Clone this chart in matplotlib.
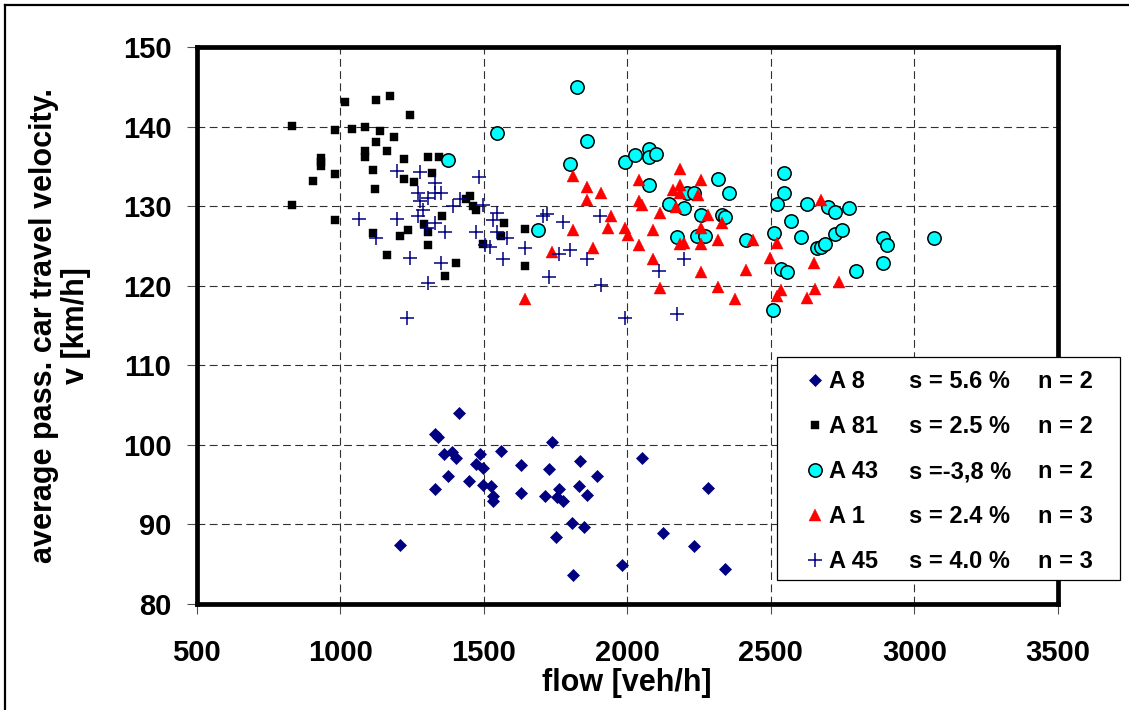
import matplotlib
matplotlib.use("Agg")
import matplotlib.pyplot as plt
from matplotlib.lines import Line2D
from matplotlib.patches import Rectangle

plt.rcParams['font.family'] = ['Liberation Sans', 'DejaVu Sans']

# ---------------- data ----------------
a8_x = [1414, 1330, 1342, 1363, 1388, 1403, 1487, 1559, 1738, 1473, 1499, 1631, 1728, 1834,
        2052, 1377, 1450, 1894, 1330, 1499, 1524, 1833, 2280, 1533, 1533, 1631, 1714, 1763,
        1755, 1776, 1859, 1809, 1848, 2123, 1751, 1208, 2231, 1980, 2341, 1810]
a8_y = [104.0, 101.4, 101.0, 98.9, 99.1, 98.3, 98.8, 99.2, 100.3, 97.6, 97.1, 97.5, 97.0, 98.0,
        98.4, 96.1, 95.4, 96.1, 94.4, 95.0, 94.8, 94.8, 94.6, 93.6, 93.0, 93.9, 93.6, 94.4,
        93.5, 93.0, 93.7, 90.2, 89.7, 88.9, 88.4, 87.4, 87.3, 84.9, 84.4, 83.6]

a81_x = [1016, 1124, 1173, 1245, 834, 981, 1040, 1088, 1138, 1187, 1124, 1088, 1088, 1162,
         933, 933, 933, 1222, 1305, 1343, 1113, 981, 1320, 907, 1222, 1257, 1123, 1452,
         1438, 1464, 1473, 834, 1355, 981, 1571, 1293, 1307, 1236, 1113, 1208, 1562, 1499,
         1305, 1162, 1402, 1365, 1644, 1644]
a81_y = [143.1, 143.3, 143.9, 141.4, 140.1, 139.6, 139.7, 139.9, 139.5, 138.7, 138.0, 136.9,
         136.2, 136.9, 136.1, 135.6, 135.1, 135.9, 136.2, 136.2, 134.5, 134.0, 134.2, 133.2,
         133.4, 133.0, 132.2, 131.3, 130.9, 130.0, 129.5, 130.2, 128.7, 128.3, 127.9, 127.7,
         126.8, 127.0, 126.6, 126.2, 126.3, 125.3, 125.1, 123.8, 122.8, 121.2, 127.1, 122.5]

a43_x = [1377, 1545, 1824, 1859, 1799, 1991, 2028, 2077, 2077, 2101, 2077, 1690, 2147, 2196,
         2208, 2231, 2173, 2242, 2272, 2257, 2330, 2341, 2316, 2353, 2413, 2510, 2545, 2545,
         2522, 2571, 2606, 2627, 2534, 2557, 2508, 2699, 2725, 2771, 2724, 2748, 2661, 2676,
         2688, 2891, 2904, 2891, 3069, 2795]
a43_y = [135.8, 139.2, 145.0, 138.2, 135.3, 135.6, 136.4, 137.2, 136.2, 136.6, 132.6, 127.0,
         130.3, 129.8, 131.6, 131.6, 126.1, 126.3, 126.3, 128.9, 128.9, 128.6, 133.4, 131.6,
         125.7, 126.6, 134.2, 131.6, 130.3, 128.1, 126.1, 130.3, 122.1, 121.7, 116.9, 129.9,
         129.3, 129.8, 126.5, 127.0, 124.8, 124.9, 125.3, 126.0, 125.1, 122.8, 126.0, 121.8]

a1_x = [1810, 1859, 1859, 1908, 1810, 1739, 1882, 1643, 1944, 1932, 1991, 2002, 2040, 2040,
        2051, 2040, 2089, 2113, 2089, 2113, 2185, 2159, 2185, 2185, 2171, 2257, 2245, 2280,
        2257, 2329, 2185, 2199, 2257, 2315, 2257, 2315, 2376, 2413, 2438, 2522, 2496, 2534,
        2522, 2627, 2676, 2650, 2736, 2653]
a1_y = [133.8, 132.4, 130.8, 131.6, 127.0, 124.2, 124.7, 118.3, 128.8, 127.2, 127.3, 126.4,
        133.3, 130.6, 130.1, 125.1, 127.0, 129.2, 123.4, 119.7, 134.7, 132.0, 132.6, 131.6,
        129.9, 133.3, 131.4, 128.9, 127.2, 127.9, 125.2, 125.4, 125.2, 125.7, 121.7, 119.9,
        118.3, 122.0, 125.8, 125.4, 123.5, 119.4, 118.7, 118.5, 130.8, 122.9, 120.5, 119.6]

a45_x = [1197, 1280, 1485, 1330, 1272, 1330, 1353, 1307, 1278, 1417, 1394, 1499, 1289, 1272,
         1197, 1065, 1545, 1534, 1330, 1303, 1365, 1473, 1545, 1580, 1124, 1505, 1522, 1245,
         1353, 1569, 1305, 1232, 1644, 1706, 1720, 1775, 1764, 1799, 1859, 1906, 1728, 1908,
         1993, 2173, 2199, 2112]
a45_y = [134.4, 134.3, 133.7, 132.9, 131.6, 131.7, 131.6, 131.0, 130.6, 130.9, 130.0, 130.1,
         129.5, 128.7, 128.4, 128.4, 129.1, 128.3, 127.9, 127.3, 126.8, 126.8, 126.8, 126.0,
         126.0, 125.1, 124.9, 123.5, 122.9, 123.4, 120.4, 116.0, 124.7, 128.7, 129.0, 128.0,
         124.0, 124.5, 123.3, 128.7, 121.1, 120.1, 116.0, 116.4, 123.3, 121.9]

series_names = ["A 8", "A 81", "A 43", "A 1", "A 45"]
s_labels = ["s = 5.6 %", "s = 2.5 %", "s =-3,8 %", "s = 2.4 %", "s = 4.0 %"]
n_labels = ["n = 2", "n = 2", "n = 2", "n = 3", "n = 3"]

x_ticks = [500, 1000, 1500, 2000, 2500, 3000, 3500]
y_ticks = [80, 90, 100, 110, 120, 130, 140, 150]

# ---------------- figure ----------------
W, H = 1129, 710
fig = plt.figure(figsize=(W / 100, H / 100), dpi=100)
fig.patch.set_facecolor('white')
ax = fig.add_axes([196.5 / W, 1 - 604 / H, (1058 - 196.5) / W, (604 - 47) / H])

navy = '#000080'
h8, = ax.plot(a8_x, a8_y, linestyle='none', marker='D', ms=6.2, mfc=navy, mec=navy, mew=0.5)
h81, = ax.plot(a81_x, a81_y, linestyle='none', marker='s', ms=5.8, mfc='black', mec='black', mew=0.3)
h43, = ax.plot(a43_x, a43_y, linestyle='none', marker='o', ms=9.6, mfc='#00FFFF', mec='black', mew=1.1)
h1, = ax.plot(a1_x, a1_y, linestyle='none', marker='^', ms=9.0, mfc='#FF0000', mec='#FF0000', mew=0.3)
h45, = ax.plot(a45_x, a45_y, linestyle='none', marker='+', ms=10.5, mfc=navy, mec=navy, mew=1.1)

ax.set_xlim(500, 3500)
ax.set_ylim(80, 150)
ax.set_xticks(x_ticks)
ax.set_yticks(y_ticks)
ax.set_xticklabels([str(v) for v in x_ticks])
ax.set_yticklabels([str(v) for v in y_ticks])

ax.grid(True, which='major', color='#303030', linestyle=(0, (7, 4)), linewidth=0.8)
ax.set_axisbelow(True)
for sp in ax.spines.values():
    sp.set_linewidth(3.4)
    sp.set_color('black')

ax.tick_params(axis='both', direction='out', length=7, width=0.8, color='#505050',
               labelsize=21)
ax.tick_params(axis='x', pad=18)
ax.tick_params(axis='y', pad=11)
for lab in ax.get_xticklabels() + ax.get_yticklabels():
    lab.set_fontweight('bold')

ax.set_xlabel("flow [veh/h]", fontsize=22, fontweight='bold', va='center')
ax.xaxis.set_label_coords(0.5, -(683 - 604) / (604 - 47))
ax.set_ylabel("average pass. car travel velocity.\nv [km/h]", fontsize=22,
              fontweight='bold', va='center', linespacing=1.05)
ax.yaxis.set_label_coords((60 - 196.5) / (1058 - 196.5), 0.5)

# ---------------- legend ----------------
handles = [h8, h81, h43, h1, h45]
leg = fig.legend(handles, series_names, loc='upper left',
                 bbox_to_anchor=(805.6 / W, 1 - 370.5 / H),
                 frameon=False, borderpad=0, borderaxespad=0,
                 handlelength=0.8, handletextpad=0.19, labelspacing=0.93,
                 prop={'size': 17, 'weight': 'bold'}, numpoints=1)
fig.add_artist(Rectangle((777.3 / W, 1 - 580 / H), (1120 - 777.3) / W, (580 - 356.7) / H,
                         transform=fig.transFigure, facecolor='white', edgecolor='black',
                         linewidth=0.9, zorder=4))
leg.set_zorder(5)

# figure border (left and top)
fig.add_artist(Line2D([5 / W, 5 / W], [0, 1 - 5 / H], transform=fig.transFigure,
                      color='black', linewidth=1.6))
fig.add_artist(Line2D([5 / W, 1], [1 - 5 / H, 1 - 5 / H], transform=fig.transFigure,
                      color='black', linewidth=1.6))

fig.canvas.draw()
renderer = fig.canvas.get_renderer()
inv = fig.transFigure.inverted()
for txt, s_lab, n_lab in zip(leg.get_texts(), s_labels, n_labels):
    bb = txt.get_window_extent(renderer)
    y0 = inv.transform((0, bb.y0))[1]
    fig.text(909.3 / W, y0, s_lab, fontsize=17, fontweight='bold', ha='left', va='bottom',
             zorder=6)
    fig.text(1038.3 / W, y0, n_lab, fontsize=17, fontweight='bold', ha='left', va='bottom',
             zorder=6)

fig.savefig("out.png", dpi=100)
